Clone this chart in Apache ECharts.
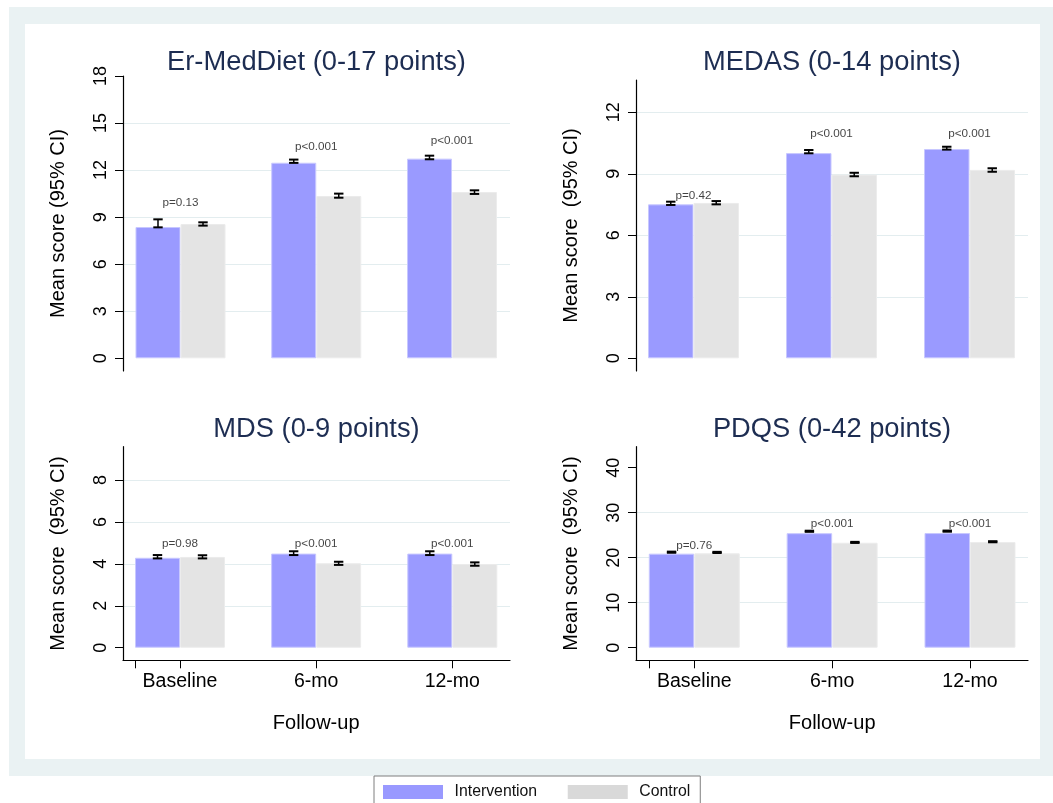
<!DOCTYPE html>
<html><head><meta charset="utf-8">
<script src="https://cdn.jsdelivr.net/npm/echarts@6/dist/echarts.min.js"></script>
<style>
html,body{margin:0;padding:0;background:#fff;}
#wrap{position:relative;width:1053px;height:803px;overflow:hidden;background:#fff;}
#outer{position:absolute;left:9px;top:7px;width:1044px;height:769px;background:#eaf2f3;}
#inner{position:absolute;left:25px;top:24px;width:1015px;height:735px;background:#fff;}
#chart{position:absolute;left:0;top:0;width:1053px;height:803px;}
</style></head>
<body><div id="wrap"><div id="outer"></div><div id="inner"></div><div id="chart"></div></div>
<script>
// ---------------- data ----------------
const categories = ['Baseline', '6-mo', '12-mo'];
const seriesNames = ['Intervention', 'Control'];
const panelTitles = ['Er-MedDiet (0-17 points)', 'MEDAS (0-14 points)', 'MDS (0-9 points)', 'PDQS (0-42 points)'];
const yTitles = ['Mean score (95% CI)', 'Mean score  (95% CI)', 'Mean score  (95% CI)', 'Mean score  (95% CI)'];
const xTitle = 'Follow-up';
const yTickMax = [18, 12, 8, 40];
const yTickStep = [3, 3, 2, 10];

const erMedDietIntervention   = [8.37, 12.47, 12.73];
const erMedDietInterventionLo = [8.35, 12.46, 12.69];
const erMedDietInterventionHi = [8.86, 12.67, 12.92];
const erMedDietControl        = [8.56, 10.35, 10.60];
const erMedDietControlLo      = [8.46, 10.24, 10.48];
const erMedDietControlHi      = [8.67, 10.50, 10.71];
const erMedDietP   = ['p=0.13', 'p<0.001', 'p<0.001'];
const erMedDietPAt = [9.92, 13.46, 13.90];

const medasIntervention   = [7.51, 10.01, 10.21];
const medasInterventionLo = [7.48, 10.00, 10.18];
const medasInterventionHi = [7.64, 10.16, 10.32];
const medasControl        = [7.58, 8.96, 9.19];
const medasControlLo      = [7.51, 8.88, 9.10];
const medasControlHi      = [7.67, 9.05, 9.27];
const medasP   = ['p=0.42', 'p<0.001', 'p<0.001'];
const medasPAt = [7.93, 10.93, 10.93];

const mdsIntervention   = [4.29, 4.49, 4.49];
const mdsInterventionLo = [4.26, 4.42, 4.42];
const mdsInterventionHi = [4.42, 4.60, 4.60];
const mdsControl        = [4.33, 4.03, 3.99];
const mdsControlLo      = [4.26, 3.95, 3.91];
const mdsControlHi      = [4.41, 4.10, 4.07];
const mdsP   = ['p=0.98', 'p<0.001', 'p<0.001'];
const mdsPAt = [4.95, 4.95, 4.95];

const pdqsIntervention   = [20.90, 25.45, 25.48];
const pdqsInterventionLo = [21.10, 25.75, 25.78];
const pdqsInterventionHi = [21.35, 26.00, 26.03];
const pdqsControl        = [20.97, 23.33, 23.48];
const pdqsControlLo      = [21.05, 23.28, 23.43];
const pdqsControlHi      = [21.30, 23.52, 23.67];
const pdqsP   = ['p=0.76', 'p<0.001', 'p<0.001'];
const pdqsPAt = [22.67, 27.60, 27.60];

// ---------------- layout (pixels) ----------------
const FONT = "'Liberation Sans', Arial, Helvetica, sans-serif";
const layout = [
  {axL:123, axW:387, top:76,    zeroY:358.3, frameTop:76,    frameBot:371,   c0:180.5, band:135.75, frac:0.663, titleX:316.5, titleTop:48.5, bottom:false, maxLine:false},
  {axL:636, axW:392, top:112.3, zeroY:358.3, frameTop:80,    frameBot:371,   c0:693.5, band:138.0,  frac:0.659, titleX:832,   titleTop:48.5, bottom:false, maxLine:true},
  {axL:123, axW:387, top:480,   zeroY:647.7, frameTop:446.7, frameBot:660.3, c0:180.0, band:136.15, frac:0.661, titleX:316.5, titleTop:416,  bottom:true,  maxLine:true},
  {axL:636, axW:392, top:467.7, zeroY:647.7, frameTop:446.7, frameBot:660.3, c0:694.3, band:137.85, frac:0.660, titleX:832,   titleTop:416,  bottom:true,  maxLine:false}
];

const panels = [
  {int: erMedDietIntervention, intLo: erMedDietInterventionLo, intHi: erMedDietInterventionHi,
   ctl: erMedDietControl, ctlLo: erMedDietControlLo, ctlHi: erMedDietControlHi, p: erMedDietP, pAt: erMedDietPAt},
  {int: medasIntervention, intLo: medasInterventionLo, intHi: medasInterventionHi,
   ctl: medasControl, ctlLo: medasControlLo, ctlHi: medasControlHi, p: medasP, pAt: medasPAt},
  {int: mdsIntervention, intLo: mdsInterventionLo, intHi: mdsInterventionHi,
   ctl: mdsControl, ctlLo: mdsControlLo, ctlHi: mdsControlHi, p: mdsP, pAt: mdsPAt},
  {int: pdqsIntervention, intLo: pdqsInterventionLo, intHi: pdqsInterventionHi,
   ctl: pdqsControl, ctlLo: pdqsControlLo, ctlHi: pdqsControlHi, p: pdqsP, pAt: pdqsPAt}
];

const grids = [], xAxes = [], yAxes = [], series = [], titles = [];
const GRIDLINE = '#e3edef';

function errSeries(gi, lo, hi, side, frac) {
  return {
    type: 'custom', xAxisIndex: gi, yAxisIndex: gi, z: 5, silent: true,
    data: categories.map((c, i) => [i, lo[i], hi[i]]),
    renderItem: function (params, api) {
      const i = api.value(0);
      const band = api.size([1, 0])[0];
      const w = band * frac / 2;
      const p1 = api.coord([i, api.value(1)]);
      const p2 = api.coord([i, api.value(2)]);
      const x = p1[0] + side * w / 2;
      const h = 4.7;
      return {type: 'group', children: [
        {type: 'line', shape: {x1: x, y1: p1[1], x2: x, y2: p2[1]}, style: {stroke: '#000', lineWidth: 1.5}},
        {type: 'line', shape: {x1: x - h, y1: p1[1], x2: x + h, y2: p1[1]}, style: {stroke: '#000', lineWidth: 2}},
        {type: 'line', shape: {x1: x - h, y1: p2[1], x2: x + h, y2: p2[1]}, style: {stroke: '#000', lineWidth: 2}}
      ]};
    }
  };
}

const extraAxisX = [];
layout.forEach((L, k) => {
  const P = panels[k];
  const gBar = k * 3, gScale = k * 3 + 1, gFrame = k * 3 + 2;
  const plotH = L.zeroY - L.top;
  const barLeft = L.c0 - L.band / 2;
  grids.push({left: barLeft, top: L.top, width: L.band * 3, height: plotH, outerBoundsMode: 'none', containLabel: false});
  grids.push({left: L.axL, top: L.top, width: L.axW, height: plotH, outerBoundsMode: 'none', containLabel: false});
  grids.push({left: L.axL, top: L.frameTop, width: L.axW, height: L.frameBot - L.frameTop, outerBoundsMode: 'none', containLabel: false});

  xAxes.push({
    gridIndex: gBar, type: 'category', data: categories, show: L.bottom,
    offset: L.frameBot - L.zeroY,
    axisLine: {show: false, onZero: false},
    axisTick: {show: true, alignWithLabel: true, length: 8, lineStyle: {color: '#000', width: 1}},
    axisLabel: {show: true, fontSize: 19.5, color: '#000', fontFamily: FONT, margin: 11.5},
    splitLine: {show: false},
    name: L.bottom ? xTitle : '', nameLocation: 'middle', nameGap: 52.7,
    nameTextStyle: {fontSize: 20, color: '#000', fontFamily: FONT}
  });
  yAxes.push({gridIndex: gBar, type: 'value', min: 0, max: yTickMax[k], interval: yTickStep[k], show: false,
    axisLine: {onZero: false}, splitLine: {show: false}});

  xAxes.push({gridIndex: gScale, type: 'value', min: 0, max: 1, show: false, axisLine: {onZero: false}, splitLine: {show: false}});
  yAxes.push({
    gridIndex: gScale, type: 'value', min: 0, max: yTickMax[k], interval: yTickStep[k],
    axisLine: {show: false, onZero: false},
    axisTick: {show: true, length: 8, lineStyle: {color: '#000', width: 1}},
    axisLabel: {show: true, rotate: 90, fontSize: 18, color: '#000', fontFamily: FONT, margin: 13},
    splitLine: {show: true, showMinLine: false, showMaxLine: L.maxLine, lineStyle: {color: GRIDLINE, width: 1.2}}
  });

  xAxes.push({gridIndex: gFrame, type: 'value', min: 0, max: 1, show: true,
    axisLine: {show: L.bottom, onZero: false, lineStyle: {color: '#000', width: 1.2}},
    axisTick: {show: false}, axisLabel: {show: false}, splitLine: {show: false}});
  yAxes.push({gridIndex: gFrame, type: 'value', min: 0, max: 1, show: true,
    axisLine: {show: true, onZero: false, lineStyle: {color: '#000', width: 1.2}},
    axisTick: {show: false}, axisLabel: {show: false}, splitLine: {show: false},
    name: yTitles[k], nameLocation: 'middle', nameGap: 54.5, nameRotate: 90,
    nameTextStyle: {fontSize: 20, color: '#000', fontFamily: FONT}});

  if (L.bottom) extraAxisX.push({k: k, gBar: gBar, L: L});

  const gapPct = ((1 - L.frac) * 100).toFixed(2) + '%';
  series.push({
    type: 'bar', name: seriesNames[0], xAxisIndex: gBar, yAxisIndex: gBar, data: P.int,
    barGap: '0%', barCategoryGap: gapPct, silent: true,
    itemStyle: {color: '#9a9aff', borderColor: '#c8c8ff', borderWidth: 1}
  });
  series.push({
    type: 'bar', name: seriesNames[1], xAxisIndex: gBar, yAxisIndex: gBar, data: P.ctl,
    barGap: '0%', barCategoryGap: gapPct, silent: true,
    itemStyle: {color: '#e4e4e4', borderColor: '#ececec', borderWidth: 1}
  });
  series.push(errSeries(gBar, P.intLo, P.intHi, -1, L.frac));
  series.push(errSeries(gBar, P.ctlLo, P.ctlHi, 1, L.frac));
  series.push({
    type: 'scatter', xAxisIndex: gBar, yAxisIndex: gBar, symbol: 'circle', symbolSize: 1, silent: true, z: 6,
    itemStyle: {color: 'rgba(0,0,0,0)'},
    data: categories.map((c, i) => ({value: [i, P.pAt[i]], label: {formatter: P.p[i]}})),
    label: {show: true, position: 'inside', fontSize: 11.7, color: '#111', fontFamily: FONT}
  });

  titles.push({text: panelTitles[k], left: L.titleX, top: L.titleTop, textAlign: 'center', padding: 0,
    textStyle: {fontSize: 27.3, fontWeight: 'normal', color: '#1d2d52', fontFamily: FONT}});
});

// extra tick at the left edge of the first bar group (bottom panels), on its own axis in the bar grid
extraAxisX.forEach(e => {
  xAxes.push({
    gridIndex: e.gBar, type: 'value', min: -0.5, max: 2.5, position: 'bottom',
    offset: e.L.frameBot - e.L.zeroY,
    axisLine: {show: false, onZero: false},
    axisTick: {show: true, length: 8, customValues: [-e.L.frac / 2], lineStyle: {color: '#000', width: 1}},
    axisLabel: {show: false, customValues: []},
    splitLine: {show: false}
  });
});

const option = {
  animation: false,
  backgroundColor: 'transparent',
  title: titles,
  grid: grids,
  xAxis: xAxes,
  yAxis: yAxes,
  series: series,
  legend: {
    left: 374, top: 776, orient: 'horizontal', icon: 'rect', itemWidth: 60, itemHeight: 14, itemGap: 30.6,
    padding: [8, 10, 8, 9], backgroundColor: '#fff', borderColor: '#7f7f7f', borderWidth: 1, borderRadius: 0,
    selectedMode: false,
    textStyle: {fontSize: 15.8, color: '#111', fontFamily: FONT, padding: [0, 0, 0, 6.6]},
    data: [
      {name: seriesNames[0], itemStyle: {color: '#9999ff', borderWidth: 0}},
      {name: seriesNames[1], itemStyle: {color: '#d9d9d9', borderWidth: 0}}
    ]
  }
};

const chart = echarts.init(document.getElementById('chart'), null, {renderer: 'canvas'});
chart.setOption(option);
</script>
</body></html>
